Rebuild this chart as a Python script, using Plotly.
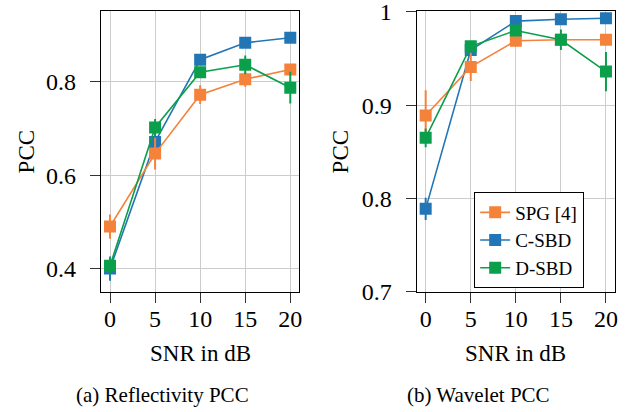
import plotly.graph_objects as go

# SNR levels (dB)
snr = [0, 5, 10, 15, 20]

# Reflectivity PCC (mean and spread) per method
refl_spg = [0.490, 0.646, 0.772, 0.805, 0.826]
refl_spg_err = [0.026, 0.034, 0.020, 0.016, 0.010]
refl_csbd = [0.400, 0.671, 0.847, 0.883, 0.894]
refl_csbd_err = [0.026, 0.020, 0.006, 0.005, 0.005]
refl_dsbd = [0.406, 0.702, 0.820, 0.836, 0.787]
refl_dsbd_err = [0.019, 0.018, 0.008, 0.020, 0.034]

# Wavelet PCC (mean and spread) per method
wav_spg = [0.889, 0.941, 0.969, 0.970, 0.970]
wav_spg_err = [0.027, 0.015, 0.004, 0.004, 0.004]
wav_csbd = [0.789, 0.959, 0.990, 0.992, 0.993]
wav_csbd_err = [0.012, 0.004, 0.002, 0.002, 0.002]
wav_dsbd = [0.865, 0.963, 0.980, 0.970, 0.936]
wav_dsbd_err = [0.010, 0.005, 0.005, 0.011, 0.021]

x_ticks = [0, 5, 10, 15, 20]
refl_ticks = [0.4, 0.6, 0.8]
refl_ticktext = ["0.4", "0.6", "0.8"]
wav_ticks = [0.7, 0.8, 0.9, 1.0]
wav_ticktext = ["0.7", "0.8", "0.9", "1"]

ORANGE = "#f5823a"
BLUE = "#2276b6"
GREEN = "#0b9f4b"
FONT = "Liberation Serif, Times New Roman, serif"

fig = go.Figure()

# (name, colour, legend rank, refl data, refl err, wav data, wav err); drawn blue, orange, green
series = [
    ("C-SBD", BLUE, 2, refl_csbd, refl_csbd_err, wav_csbd, wav_csbd_err),
    ("SPG [4]", ORANGE, 1, refl_spg, refl_spg_err, wav_spg, wav_spg_err),
    ("D-SBD", GREEN, 3, refl_dsbd, refl_dsbd_err, wav_dsbd, wav_dsbd_err),
]

for name, col, rank, ry, re, wy, we in series:
    common = dict(
        mode="lines+markers",
        line=dict(color=col, width=1.6),
        marker=dict(symbol="square", size=12, color=col, line=dict(width=0)),
        name=name,
        legendrank=rank,
    )
    fig.add_trace(go.Scatter(
        x=snr, y=ry, xaxis="x", yaxis="y", showlegend=False,
        error_y=dict(type="data", array=re, visible=True, color=col, thickness=2, width=0),
        **common))
    fig.add_trace(go.Scatter(
        x=snr, y=wy, xaxis="x2", yaxis="y2", showlegend=True,
        error_y=dict(type="data", array=we, visible=True, color=col, thickness=2, width=0),
        **common))

axis_common = dict(
    showline=True, linecolor="black", linewidth=1.2, mirror=True,
    showgrid=True, gridcolor="#cccccc", gridwidth=1,
    ticks="outside", ticklen=10, tickwidth=1.2, tickcolor="#333333",
    zeroline=False, automargin=False, ticklabeloverflow="allow",
    tickfont=dict(family=FONT, size=24, color="black"),
)

fig.update_layout(
    width=634, height=412,
    margin=dict(l=0, r=0, t=0, b=0),
    paper_bgcolor="white", plot_bgcolor="white",
    font=dict(family=FONT, color="black"),
    xaxis=dict(domain=[0.1593, 0.4721], range=[-1, 21], tickvals=x_ticks, anchor="y",
               ticklabelstandoff=-5, **axis_common),
    yaxis=dict(domain=[0.2913, 0.9721], range=[0.35, 0.95], tickvals=refl_ticks,
               ticktext=refl_ticktext, anchor="x", ticklabelstandoff=9, **axis_common),
    xaxis2=dict(domain=[0.6572, 0.970], range=[-1, 21], tickvals=x_ticks, anchor="y2",
                ticklabelstandoff=-5, **axis_common),
    yaxis2=dict(domain=[0.2913, 0.9721], range=[0.7, 1.0003], tickvals=wav_ticks,
                ticktext=wav_ticktext, anchor="x2", ticklabelstandoff=9, **axis_common),
    legend=dict(
        x=0.7476, y=0.5333, xanchor="left", yanchor="top",
        bgcolor="white", bordercolor="black", borderwidth=1.2,
        font=dict(family=FONT, size=19, color="black"),
        tracegroupgap=0,
    ),
    showlegend=True,
)

annos = [
    dict(text="PCC", x=26.7 / 634, y=1 - 151.7 / 412, textangle=-90, size=23),
    dict(text="PCC", x=340.7 / 634, y=1 - 151.7 / 412, textangle=-90, size=23),
    dict(text="SNR in dB", x=200 / 634, y=1 - 353 / 412, textangle=0, size=23),
    dict(text="SNR in dB", x=515.3 / 634, y=1 - 353 / 412, textangle=0, size=23),
    dict(text="(a) Reflectivity PCC", x=162.5 / 634, y=1 - 395 / 412, textangle=0, size=21),
    dict(text="(b) Wavelet PCC", x=478 / 634, y=1 - 395 / 412, textangle=0, size=21),
]
for a in annos:
    fig.add_annotation(
        text=a["text"], x=a["x"], y=a["y"], xref="paper", yref="paper",
        xanchor="center", yanchor="middle", showarrow=False, textangle=a["textangle"],
        font=dict(family=FONT, size=a["size"], color="black"),
    )

fig.write_html("out.html")
